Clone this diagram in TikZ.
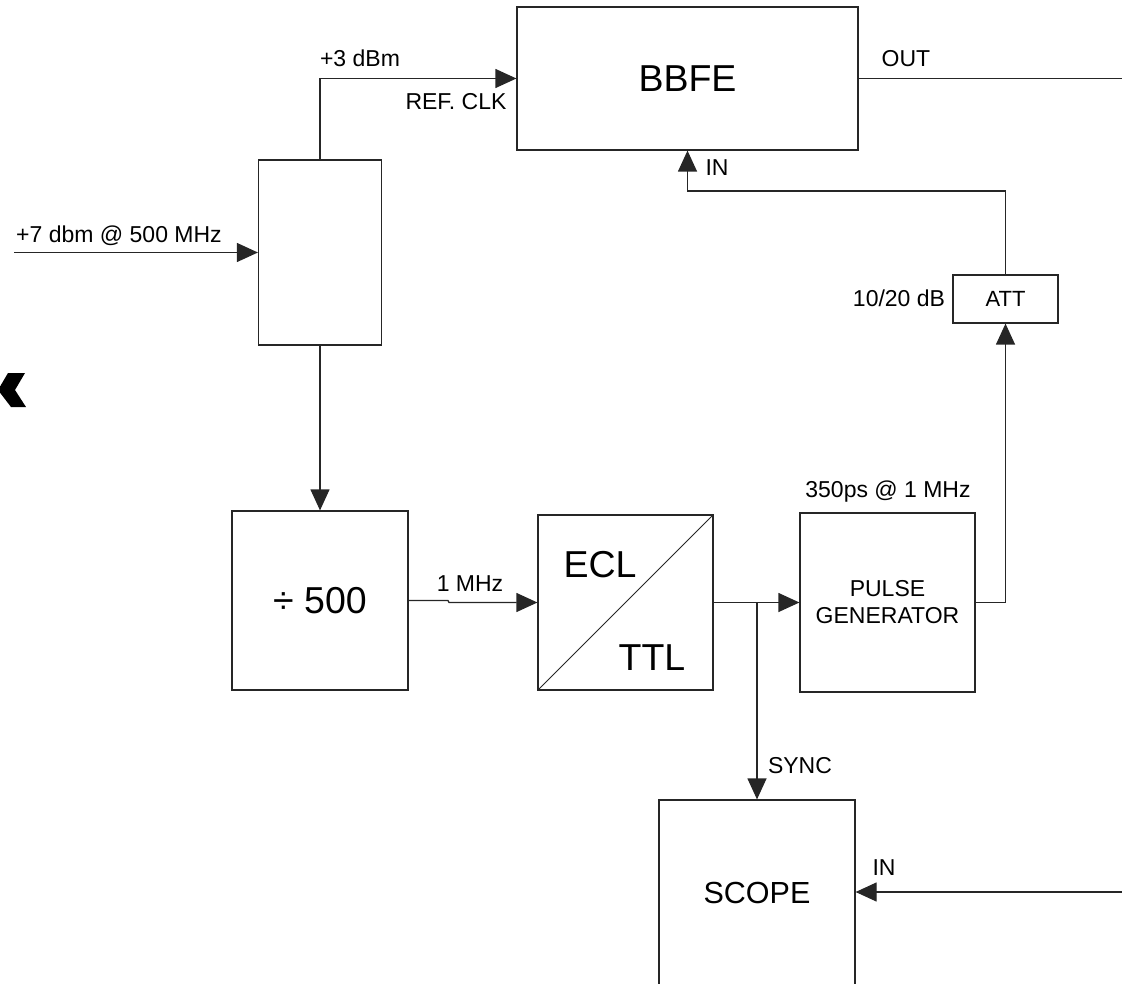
\documentclass[tikz,border=0pt]{standalone}
\usepackage{fontspec}
\setmainfont{Liberation Sans}
\usetikzlibrary{arrows.meta}
\tikzset{
  wire/.style={draw=black!85, line width=1.2pt},
  arr/.style={wire, -{Triangle[length=21pt,width=19pt]}},
  blk/.style={draw=black!85, line width=1.2pt, fill=white, inner sep=0pt, anchor=center},
  lbl/.style={anchor=base, inner sep=0pt, font=\fontsize{23}{27}\selectfont},
  big/.style={font=\fontsize{37.5}{45}\selectfont},
}
\begin{document}
\begin{tikzpicture}[x=1pt, y=-1pt]
\useasboundingbox (0,0) rectangle (1122,984);
\clip (0,0) rectangle (1122,984);
% blocks
\node[blk, minimum width=341pt, minimum height=143pt, big] (bbfe) at (687.5,78.5) {BBFE};
\node[blk, minimum width=123pt, minimum height=185pt] (split) at (320,252.5) {};
\node[blk, minimum width=176pt, minimum height=179pt, big] (div) at (320,600.5) {÷ 500};
\node[blk, minimum width=175pt, minimum height=175pt] (ecl) at (625.5,602.5) {};
\node[blk, minimum width=175pt, minimum height=179pt, align=center, font=\fontsize{23}{27}\selectfont] (pg) at (887.5,602.5) {PULSE\\GENERATOR};
\node[blk, minimum width=105pt, minimum height=48pt, font=\fontsize{22}{26}\selectfont] (att) at (1005.5,299) {ATT};
\node[blk, minimum width=196pt, minimum height=190pt] (scope) at (757,895) {};
% ECL/TTL contents
\draw[draw=black!85, line width=0.9pt] (ecl.south west) -- (ecl.north east);
\node[lbl, big] (ecltxt) at (600,577) {ECL};
\node[lbl, big] (ttltxt) at (652,670) {TTL};
\node[lbl, font=\fontsize{30.5}{36}\selectfont] (scopetxt) at (757,903) {SCOPE};
% chevron
\fill[black] (8,373) -- (25,373) -- (15,390) -- (26,407) -- (11,407) -- (-2,390) -- cycle;
% connectors
\coordinate (inp) at (14,252.5);
\draw[arr] (inp) -- (split.west);
\draw[arr] (split.north) |- (bbfe.west);
\draw[arr] (split.south) -- (div.north);
\coordinate (j1) at (448,600.5);
\coordinate (j2) at (449,602.5);
\draw[arr] (div.east) -- (j1) -- (j2) -- (ecl.west);
\draw[arr] (ecl.east) -- (pg.west);
\coordinate (tap) at (757,602.5);
\draw[arr] (tap) -- (scope.north);
\draw[arr] (pg.east) -| (att.south);
\coordinate (fb) at (687.5,191);
\draw[arr] (att.north) |- (fb) -- (bbfe.south);
\coordinate (out) at (1122,78.5);
\draw[wire] (bbfe.east) -- (out);
\coordinate (scin) at (1122,892);
\draw[arr] (scin) -- (scin -| scope.east);
% labels
\node[lbl] (l7) at (119,243) {+7 dbm @ 500 MHz};
\node[lbl] (l3) at (360,67) {+3 dBm};
\node[lbl] (lref) at (456,110) {REF. CLK};
\node[lbl] (lout) at (906,67) {OUT};
\node[lbl] (lin1) at (717,176) {IN};
\node[lbl] (latt) at (899,307) {10/20 dB};
\node[lbl] (l350) at (888,497) {350ps @ 1 MHz};
\node[lbl] (l1m) at (470,591) {1 MHz};
\node[lbl] (lsync) at (800,773) {SYNC};
\node[lbl] (lin2) at (884,875) {IN};
\end{tikzpicture}
\end{document}
